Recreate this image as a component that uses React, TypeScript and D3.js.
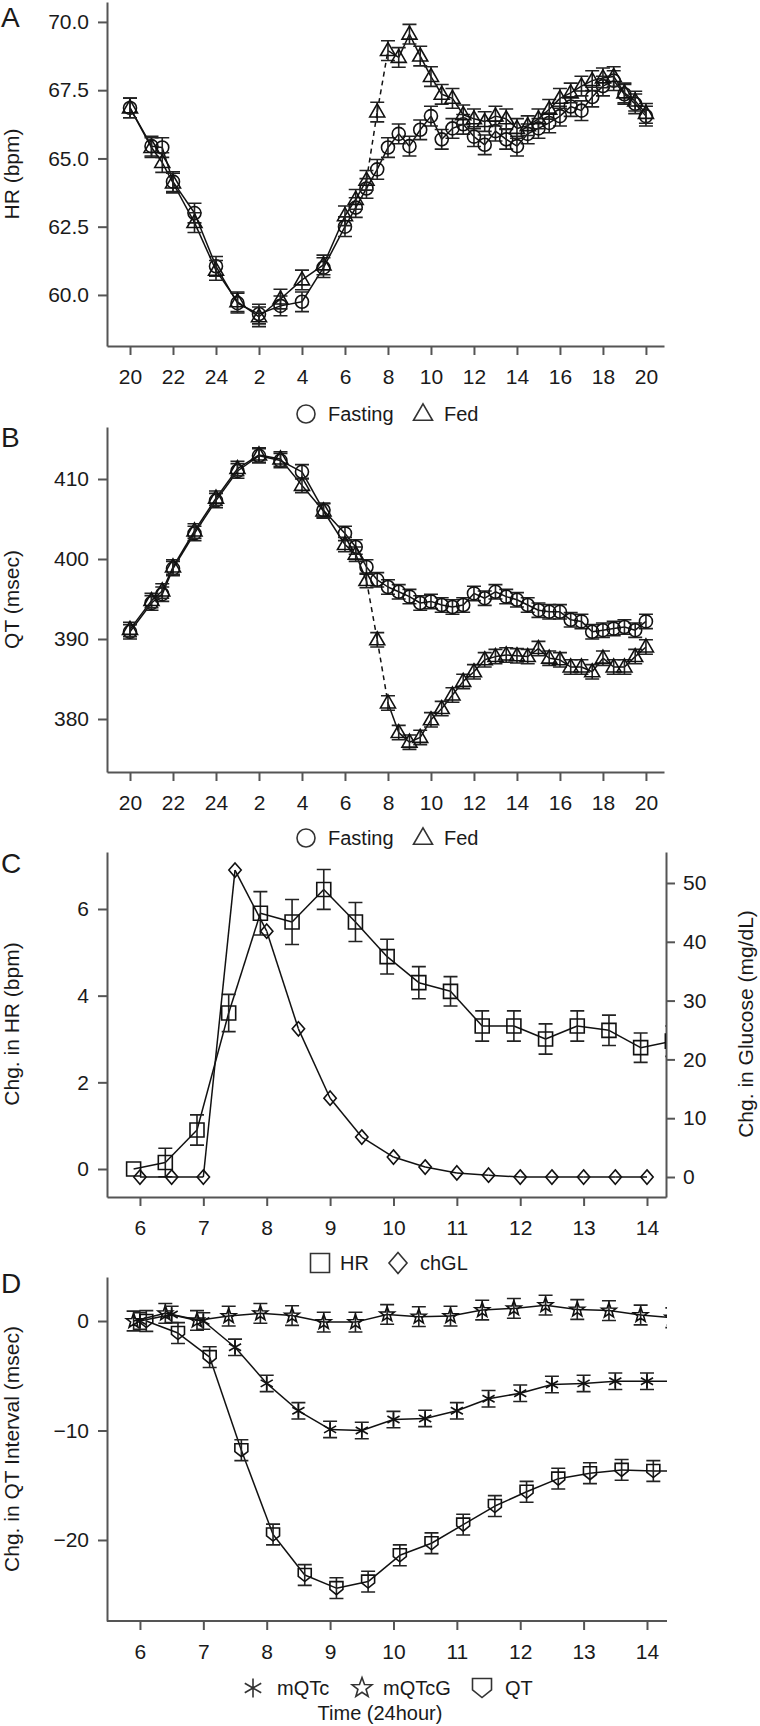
import { useEffect, useRef } from 'react';
import * as d3 from 'd3';

// Panels A & B: clock hour counted from 20:00 (24 = midnight, 44 = 20:00 next day)
const clockHours = [
  20, 21, 21.5, 22, 23, 24, 25, 26, 27, 28, 29, 30,
  30.5, 31, 31.5, 32, 32.5, 33, 33.5, 34, 34.5, 35, 35.5, 36, 36.5, 37,
  37.5, 38, 38.5, 39, 39.5, 40, 40.5, 41, 41.5, 42, 42.5, 43, 43.5, 44,
];
const hrFasting = [
  66.85, 65.45, 65.4, 64.15, 63.0, 61.05, 59.7, 59.3, 59.6, 59.75, 61.0, 62.5,
  63.2, 63.9, 64.6, 65.4, 65.9, 65.45, 66.05, 66.55, 65.7, 66.1, 66.25, 65.8, 65.5, 66.0,
  65.7, 65.45, 65.9, 66.1, 66.3, 66.55, 66.9, 66.75, 67.25, 67.65, 67.85, 67.35, 67.0, 66.55,
];
const hrFed = [
  66.85, 65.4, 64.85, 64.1, 62.65, 60.9, 59.75, 59.2, 59.85, 60.55, 61.1, 62.9,
  63.5, 64.2, 66.7, 68.95, 68.7, 69.55, 68.75, 68.0, 67.35, 67.2, 66.6, 66.45, 66.35, 66.55,
  66.45, 66.1, 66.2, 66.45, 66.8, 67.2, 67.4, 67.65, 67.85, 67.95, 68.0, 67.4, 67.1, 66.65,
];
const qtFasting = [
  390.9, 394.5, 395.6, 398.8, 403.2, 407.3, 411.0, 412.9, 412.3, 410.9, 406.1, 403.2,
  401.5, 399.0, 397.4, 396.5, 395.9, 395.3, 394.5, 394.7, 394.25, 394.0, 394.25, 395.7, 395.1, 395.9,
  395.3, 394.9, 394.25, 393.6, 393.4, 393.4, 392.4, 392.2, 390.9, 391.1, 391.3, 391.5, 391.1, 392.2,
];
const qtFed = [
  391.2, 394.8, 396.0, 399.0, 403.5, 407.6, 411.3, 413.0, 412.5, 409.2, 406.0, 401.8,
  400.6, 397.3, 389.9, 382.0, 378.3, 377.1, 377.7, 379.9, 381.3, 383.0, 384.7, 385.9, 387.4, 387.8,
  388.0, 387.9, 387.8, 388.8, 387.6, 387.4, 386.5, 386.5, 385.9, 387.6, 386.5, 386.5, 387.8, 389.0,
];
const hrSem = 0.36;
const qtSem = 0.9;
// meal: fed curve drawn dashed over this window
const mealWindow = [31, 32];
const clockTicks = [20, 22, 24, 26, 28, 30, 32, 34, 36, 38, 40, 42, 44];

// Panel C
const hrTimes = [5.9, 6.4, 6.9, 7.4, 7.9, 8.4, 8.9, 9.4, 9.9, 10.4, 10.9, 11.4, 11.9, 12.4, 12.9, 13.4, 13.9, 14.4];
const hrChange = [0, 0.15, 0.9, 3.6, 5.9, 5.7, 6.45, 5.7, 4.9, 4.3, 4.1, 3.3, 3.3, 3.0, 3.3, 3.2, 2.8, 2.95];
const hrChangeSem = [0, 0.33, 0.35, 0.43, 0.5, 0.52, 0.46, 0.45, 0.4, 0.37, 0.34, 0.35, 0.35, 0.35, 0.35, 0.35, 0.34, 0.35];
const glTimes = [6, 6.5, 7, 7.5, 8, 8.5, 9, 9.5, 10, 10.5, 11, 11.5, 12, 12.5, 13, 13.5, 14];
const glChange = [0, 0, 0, 52.2, 41.8, 25.2, 13.4, 6.8, 3.4, 1.7, 0.7, 0.3, 0, 0, 0, 0, 0];

// Panel D
const mqtcgTimes = [5.9, 6.4, 6.9, 7.4, 7.9, 8.4, 8.9, 9.4, 9.9, 10.4, 10.9, 11.4, 11.9, 12.4, 12.9, 13.4, 13.9, 14.4];
const mqtcg = [0, 0.7, 0.05, 0.45, 0.7, 0.5, -0.1, -0.1, 0.6, 0.4, 0.45, 1.0, 1.15, 1.45, 1.05, 0.95, 0.55, 0.3];
const mqtcTimes = [6, 6.5, 7, 7.5, 8, 8.5, 9, 9.5, 10, 10.5, 11, 11.5, 12, 12.5, 13, 13.5, 14, 14.5];
const mqtc = [0, 0.6, 0, -2.4, -5.7, -8.2, -9.9, -10.0, -9.0, -8.9, -8.2, -7.1, -6.6, -5.8, -5.7, -5.5, -5.5, -5.5];
const qtTimes = [6.1, 6.6, 7.1, 7.6, 8.1, 8.6, 9.1, 9.6, 10.1, 10.6, 11.1, 11.6, 12.1, 12.6, 13.1, 13.6, 14.1, 14.6];
const qtChange = [0, -1.1, -3.3, -11.8, -19.5, -23.2, -24.4, -23.8, -21.4, -20.3, -18.6, -16.9, -15.6, -14.4, -13.9, -13.6, -13.7, -13.7];
const mqtcgSem = 0.9;
const mqtcSem = 0.75;
const qtChangeSem = 0.95;
const hourTicks = [6, 7, 8, 9, 10, 11, 12, 13, 14];

const FONT = '"Liberation Sans", Arial, Helvetica, sans-serif';
const AXIS = '#555';
const INK = '#111';

function shape(kind: string, s: number): string {
  const h = s / 2;
  switch (kind) {
    case 'circle':
      return `M${-h},0a${h},${h} 0 1,0 ${s},0a${h},${h} 0 1,0 ${-s},0Z`;
    case 'triangle': {
      const t = s * 0.866;
      return `M0,${-t * 0.62}L${h},${t * 0.38}L${-h},${t * 0.38}Z`;
    }
    case 'square':
      return `M${-h},${-h}h${s}v${s}h${-s}Z`;
    case 'diamond':
      return `M0,${-h * 1.1}L${h * 0.95},0L0,${h * 1.1}L${-h * 0.95},0Z`;
    case 'star': {
      const pts = d3.range(10).map((i) => {
        const r = i % 2 === 0 ? h * 1.1 : h * 0.45;
        const a = -Math.PI / 2 + (i * Math.PI) / 5;
        return `${(r * Math.cos(a)).toFixed(2)},${(r * Math.sin(a)).toFixed(2)}`;
      });
      return `M${pts.join('L')}Z`;
    }
    case 'asterisk': {
      const r = h;
      return [90, 30, -30]
        .map((deg) => {
          const a = (deg * Math.PI) / 180;
          const dx = r * Math.cos(a);
          const dy = r * Math.sin(a);
          return `M${-dx},${-dy}L${dx},${dy}`;
        })
        .join('');
    }
    case 'shield':
      return `M${-h},${-h}L${h},${-h}L${h},${h * 0.2}L0,${h}L${-h},${h * 0.2}Z`;
    default:
      return '';
  }
}

type Sel = d3.Selection<SVGGElement, unknown, null, undefined>;

function drawSeries(
  g: Sel,
  xs: number[],
  ys: number[],
  errs: number[] | number,
  x: d3.ScaleLinear<number, number>,
  y: d3.ScaleLinear<number, number>,
  kind: string,
  size: number,
  dashWin?: number[],
) {
  const err = (i: number) => (Array.isArray(errs) ? errs[i] : errs);
  // connecting line, segment by segment so the meal window can be dashed
  for (let i = 0; i < xs.length - 1; i++) {
    const dashed = !!dashWin && xs[i] >= dashWin[0] && xs[i + 1] <= dashWin[1];
    g.append('line')
      .attr('x1', x(xs[i]))
      .attr('y1', y(ys[i]))
      .attr('x2', x(xs[i + 1]))
      .attr('y2', y(ys[i + 1]))
      .attr('stroke', INK)
      .attr('stroke-width', 1.5)
      .attr('stroke-dasharray', dashed ? '5,4' : null);
  }
  // error bars
  xs.forEach((xv, i) => {
    const e = err(i);
    if (!e) return;
    const cx = x(xv);
    const y1 = y(ys[i] - e);
    const y2 = y(ys[i] + e);
    const cap = 7;
    g.append('path')
      .attr('d', `M${cx},${y1}V${y2}M${cx - cap},${y1}H${cx + cap}M${cx - cap},${y2}H${cx + cap}`)
      .attr('fill', 'none')
      .attr('stroke', '#222')
      .attr('stroke-width', 1.6);
  });
  // markers
  xs.forEach((xv, i) => {
    g.append('path')
      .attr('d', shape(kind, size))
      .attr('transform', `translate(${x(xv)},${y(ys[i])})`)
      .attr('fill', 'none')
      .attr('stroke', INK)
      .attr('stroke-width', 1.6);
  });
}

function styleAxis(a: Sel) {
  a.select('.domain').attr('stroke', AXIS).attr('stroke-width', 2);
  a.selectAll('.tick line').attr('stroke', AXIS).attr('stroke-width', 2);
  a.selectAll('.tick text').attr('fill', '#1a1a1a').attr('font-size', 21).attr('font-family', FONT);
}

function legend(svg: d3.Selection<SVGSVGElement, unknown, null, undefined>, y: number, items: { kind: string; x: number; tx: number; label: string }[]) {
  items.forEach((it) => {
    svg
      .append('path')
      .attr('d', shape(it.kind, it.kind === 'circle' ? 18 : 19))
      .attr('transform', `translate(${it.x},${y})`)
      .attr('fill', 'none')
      .attr('stroke', '#333')
      .attr('stroke-width', 1.6);
    svg
      .append('text')
      .attr('x', it.tx)
      .attr('y', y + 7)
      .attr('font-family', FONT)
      .attr('font-size', 20)
      .attr('fill', '#1a1a1a')
      .text(it.label);
  });
}

export default function App() {
  const ref = useRef<SVGSVGElement>(null);

  useEffect(() => {
    if (!ref.current) return;
    const svg = d3.select(ref.current);
    svg.selectAll('*').remove();

    const left = 107;
    const defs = svg.append('defs');
    const clip = (id: string, x0: number, x1: number) =>
      defs.append('clipPath').attr('id', id).append('rect').attr('x', x0).attr('y', 0).attr('width', x1 - x0).attr('height', 1726);
    clip('clipAB', left, 664);
    clip('clipC', left, 666);
    clip('clipD', left, 667);

    const title = (text: string, x: number, y: number) =>
      svg
        .append('text')
        .attr('transform', `translate(${x},${y}) rotate(-90)`)
        .attr('text-anchor', 'middle')
        .attr('font-family', FONT)
        .attr('font-size', 21)
        .attr('fill', '#1a1a1a')
        .text(text);
    const letter = (t: string, y: number) =>
      svg.append('text').attr('x', 1).attr('y', y).attr('font-family', FONT).attr('font-size', 28).attr('fill', '#1a1a1a').text(t);

    // ---------- Panels A and B ----------
    const xAB = d3.scaleLinear().domain([18.93, 44.84]).range([left, 664]);
    const clockFmt = (d: d3.NumberValue) => String(+d > 24 ? +d - 24 : +d);

    const panelAB = (
      top: number,
      bottom: number,
      y: d3.ScaleLinear<number, number>,
      ticks: number[],
      fmt: (d: d3.NumberValue) => string,
      fasting: number[],
      fed: number[],
      sem: number,
      label: string,
      letterText: string,
      letterY: number,
    ) => {
      const gx = svg.append('g').attr('transform', `translate(0,${bottom})`)
        .call(d3.axisBottom(xAB).tickValues(clockTicks).tickFormat(clockFmt).tickSize(9).tickSizeOuter(0).tickPadding(14));
      styleAxis(gx as unknown as Sel);
      const gy = svg.append('g').attr('transform', `translate(${left},0)`)
        .call(d3.axisLeft(y).tickValues(ticks).tickFormat(fmt).tickSize(9).tickSizeOuter(0).tickPadding(9));
      styleAxis(gy as unknown as Sel);
      const plot = svg.append('g').attr('clip-path', 'url(#clipAB)') as unknown as Sel;
      drawSeries(plot, clockHours, fasting, sem, xAB, y, 'circle', 13);
      drawSeries(plot, clockHours, fed, sem, xAB, y, 'triangle', 15, mealWindow);
      title(label, 19, (top + bottom) / 2);
      letter(letterText, letterY);
    };

    const yA = d3.scaleLinear().domain([58.13, 70.73]).range([346, 2]);
    panelAB(2, 346, yA, [60, 62.5, 65, 67.5, 70], d3.format('.1f'), hrFasting, hrFed, hrSem, 'HR (bpm)', 'A', 27);
    legend(svg, 414, [
      { kind: 'circle', x: 306, tx: 328, label: 'Fasting' },
      { kind: 'triangle', x: 423, tx: 444, label: 'Fed' },
    ]);

    const yB = d3.scaleLinear().domain([373.375, 416.5]).range([772, 427]);
    panelAB(427, 772, yB, [380, 390, 400, 410], d3.format('d'), qtFasting, qtFed, qtSem, 'QT (msec)', 'B', 447);
    legend(svg, 838, [
      { kind: 'circle', x: 306, tx: 328, label: 'Fasting' },
      { kind: 'triangle', x: 423, tx: 444, label: 'Fed' },
    ]);

    // ---------- Panel C ----------
    const xC = d3.scaleLinear().domain([5.48, 14.3]).range([left, 666]);
    const yC = d3.scaleLinear().domain([-0.646, 7.315]).range([1197, 852]);
    const yGl = d3.scaleLinear().domain([-3.4, 55.27]).range([1197, 852]);
    const cx = svg.append('g').attr('transform', 'translate(0,1197)')
      .call(d3.axisBottom(xC).tickValues(hourTicks).tickFormat(d3.format('d')).tickSize(9).tickSizeOuter(0).tickPadding(14));
    styleAxis(cx as unknown as Sel);
    const cy = svg.append('g').attr('transform', `translate(${left},0)`)
      .call(d3.axisLeft(yC).tickValues([0, 2, 4, 6]).tickFormat(d3.format('d')).tickSize(9).tickSizeOuter(0).tickPadding(9));
    styleAxis(cy as unknown as Sel);
    const cr = svg.append('g').attr('transform', 'translate(666,0)')
      .call(d3.axisRight(yGl).tickValues([0, 10, 20, 30, 40, 50]).tickFormat(d3.format('d')).tickSize(9).tickSizeOuter(0).tickPadding(8));
    styleAxis(cr as unknown as Sel);
    const plotC = svg.append('g').attr('clip-path', 'url(#clipC)') as unknown as Sel;
    drawSeries(plotC, hrTimes, hrChange, hrChangeSem, xC, yC, 'square', 14);
    drawSeries(plotC, glTimes, glChange, 0, xC, yGl, 'diamond', 13);
    title('Chg. in HR (bpm)', 19, 1024);
    title('Chg. in Glucose (mg/dL)', 753, 1024);
    letter('C', 873);
    legend(svg, 1263, [
      { kind: 'square', x: 320, tx: 340, label: 'HR' },
      { kind: 'diamond', x: 398, tx: 420, label: 'chGL' },
    ]);

    // ---------- Panel D ----------
    const xD = d3.scaleLinear().domain([5.48, 14.3]).range([left, 666]);
    const yD = d3.scaleLinear().domain([-27.4, 4.02]).range([1621, 1277]);
    const dx = svg.append('g').attr('transform', 'translate(0,1621)')
      .call(d3.axisBottom(xD).tickValues(hourTicks).tickFormat(d3.format('d')).tickSize(9).tickSizeOuter(0).tickPadding(14));
    styleAxis(dx as unknown as Sel);
    dx.select('.domain').attr('d', `M${left},0H667`);
    const dy = svg.append('g').attr('transform', `translate(${left},0)`)
      .call(d3.axisLeft(yD).tickValues([-20, -10, 0]).tickFormat(d3.format('d')).tickSize(9).tickSizeOuter(0).tickPadding(9));
    styleAxis(dy as unknown as Sel);
    const plotD = svg.append('g').attr('clip-path', 'url(#clipD)') as unknown as Sel;
    drawSeries(plotD, mqtcgTimes, mqtcg, mqtcgSem, xD, yD, 'star', 14);
    drawSeries(plotD, mqtcTimes, mqtc, mqtcSem, xD, yD, 'asterisk', 14);
    drawSeries(plotD, qtTimes, qtChange, qtChangeSem, xD, yD, 'shield', 13);
    title('Chg. in QT Interval (msec)', 19, 1449);
    letter('D', 1293);
    legend(svg, 1688, [
      { kind: 'asterisk', x: 253, tx: 277, label: 'mQTc' },
      { kind: 'star', x: 362, tx: 383, label: 'mQTcG' },
      { kind: 'shield', x: 482, tx: 505, label: 'QT' },
    ]);
    svg
      .append('text')
      .attr('x', 380)
      .attr('y', 1720)
      .attr('text-anchor', 'middle')
      .attr('font-family', FONT)
      .attr('font-size', 20)
      .attr('fill', '#1a1a1a')
      .text('Time (24hour)');
  }, []);

  return (
    <svg
      ref={ref}
      width={760}
      height={1726}
      style={{ position: 'absolute', left: 0, top: 0, background: '#fff' }}
    />
  );
}
